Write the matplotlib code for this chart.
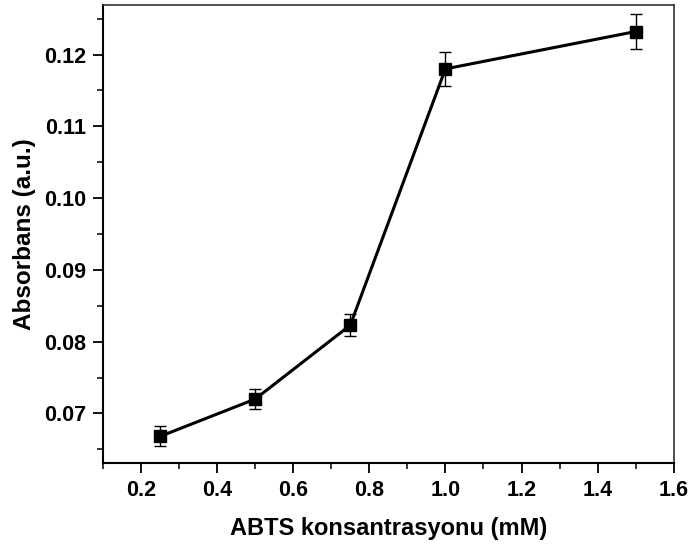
import matplotlib
matplotlib.use("Agg")
import matplotlib.pyplot as plt
from matplotlib.ticker import MultipleLocator

plt.rcParams['font.family'] = ['Liberation Sans', 'DejaVu Sans']

concentration = [0.25, 0.50, 0.75, 1.00, 1.50]
absorbance = [0.0668, 0.0720, 0.0823, 0.1180, 0.1232]
error = [0.0014, 0.0014, 0.0015, 0.0024, 0.0024]

fig = plt.figure(figsize=(6.91, 5.47), dpi=100)
ax = fig.add_axes([0.149, 0.1536, 0.826, 0.8373])

ax.errorbar(concentration, absorbance, yerr=error, color='black', lw=2.2,
            marker='s', markersize=8, ecolor='black', elinewidth=1.0,
            capsize=4, capthick=1.0)

ax.set_xlim(0.1, 1.6)
ax.set_ylim(0.0631, 0.1269)
ax.xaxis.set_major_locator(MultipleLocator(0.2))
ax.xaxis.set_minor_locator(MultipleLocator(0.1))
ax.yaxis.set_major_locator(MultipleLocator(0.01))
ax.yaxis.set_minor_locator(MultipleLocator(0.005))
ax.xaxis.set_major_formatter(plt.FormatStrFormatter('%.1f'))
ax.yaxis.set_major_formatter(plt.FormatStrFormatter('%.2f'))

ax.tick_params(which='major', direction='out', length=7, width=1.3,
               labelsize=15.5, pad=5)
ax.tick_params(which='minor', direction='out', length=4, width=1.1)
ax.tick_params(top=False, right=False)
for lab in ax.get_xticklabels() + ax.get_yticklabels():
    lab.set_fontweight('bold')

for side in ['left', 'bottom']:
    ax.spines[side].set_linewidth(1.5)
for side in ['top', 'right']:
    ax.spines[side].set_linewidth(1.2)
    ax.spines[side].set_color('#333333')

ax.set_xlabel('ABTS konsantrasyonu (mM)', fontsize=17, fontweight='bold',
              labelpad=12)
ax.set_ylabel('Absorbans (a.u.)', fontsize=17.5, fontweight='bold', labelpad=6)

fig.savefig('out.png', dpi=100)
